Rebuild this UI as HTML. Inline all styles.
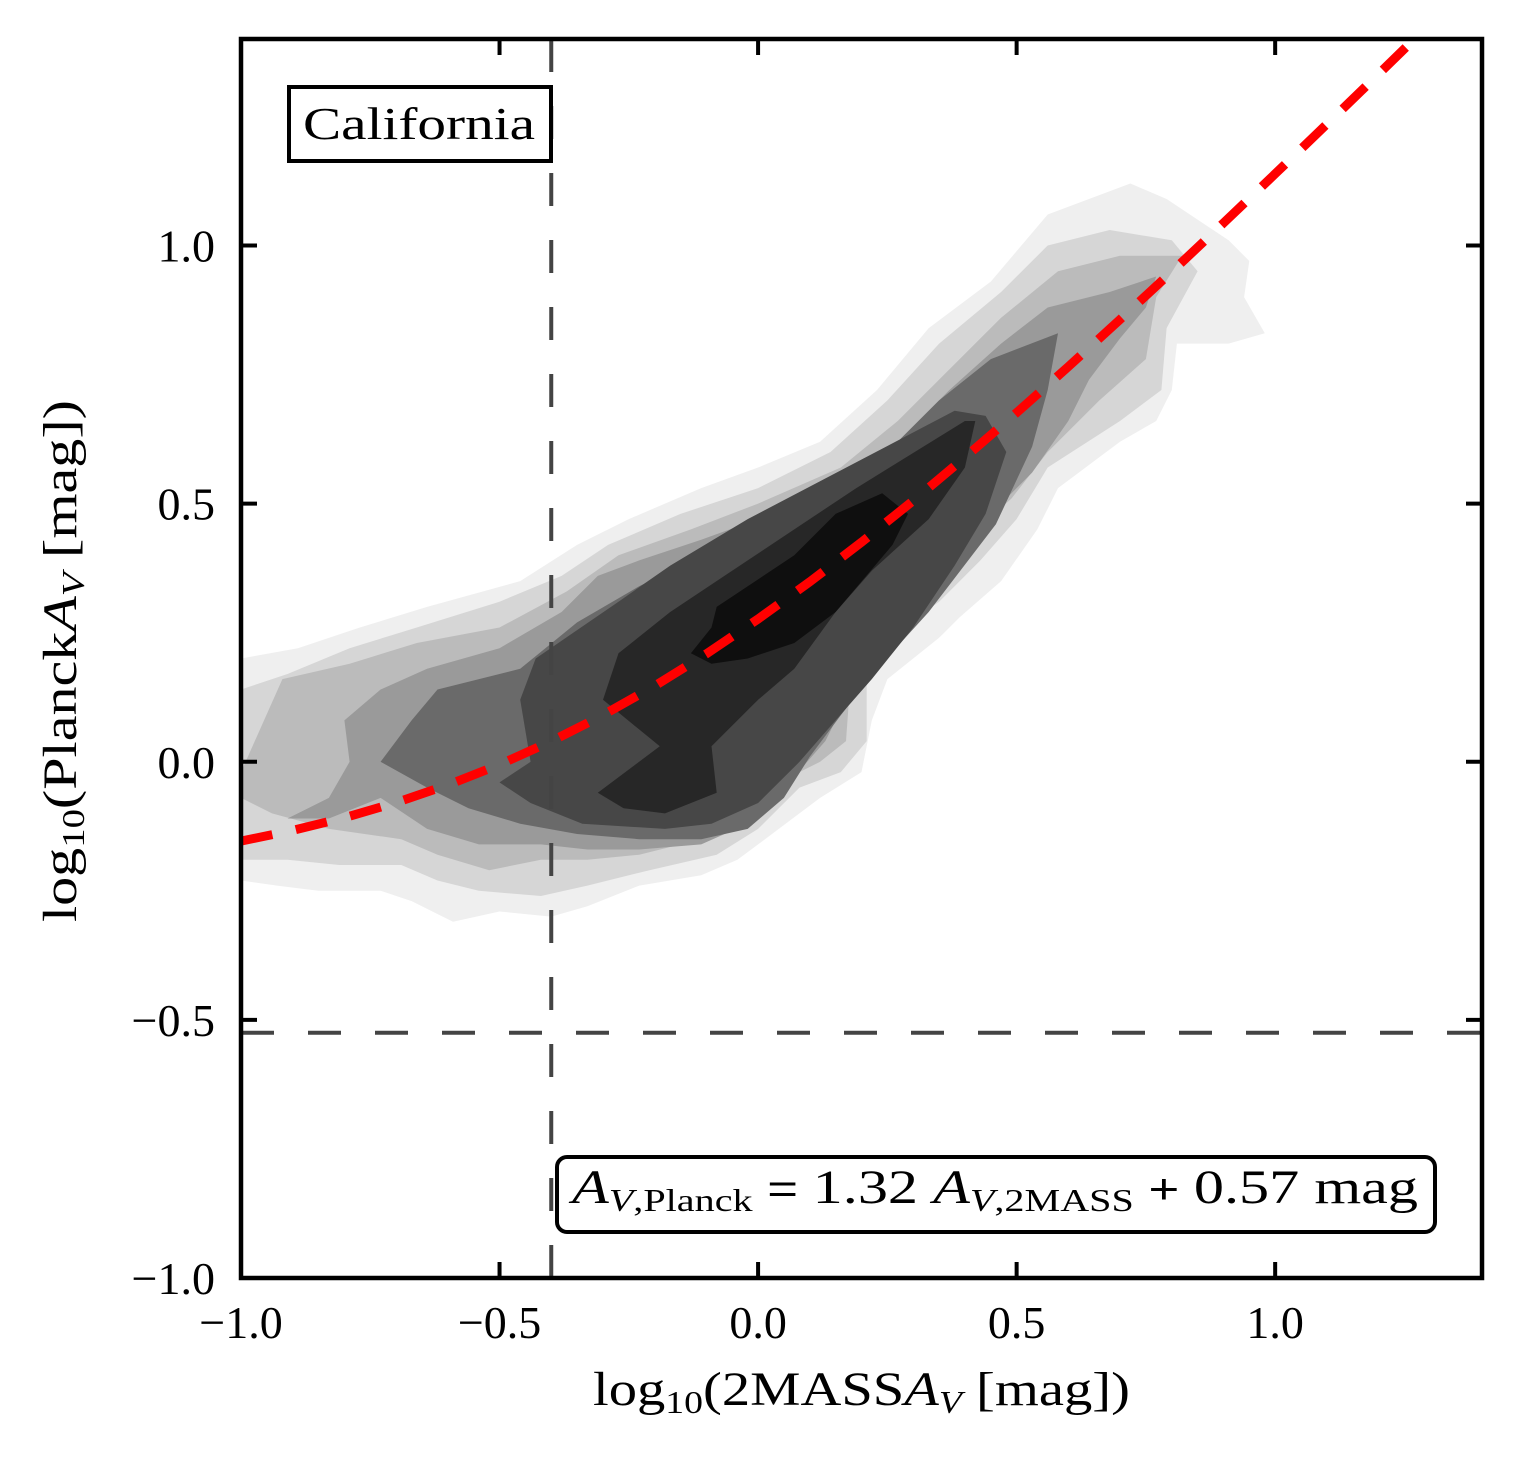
<!DOCTYPE html>
<html><head><meta charset="utf-8"><style>
html,body{margin:0;padding:0;background:#fff;}
svg{display:block;font-family:"Liberation Serif",serif;}
</style></head><body>
<svg id="chart" width="1521" height="1462" viewBox="0 0 1521 1462" xmlns="http://www.w3.org/2000/svg"></svg>
<script>
// ---- data ----
const xTicks = [-1.0, -0.5, 0.0, 0.5, 1.0];
const yTicks = [-1.0, -0.5, 0.0, 0.5, 1.0];
const xTickLabels = ["\u22121.0", "\u22120.5", "0.0", "0.5", "1.0"];
const yTickLabels = ["\u22121.0", "\u22120.5", "0.0", "0.5", "1.0"];
const fitSlope = 1.32;
const fitOffset = 0.57;
const fitX = [-1.0,-0.9,-0.8,-0.7,-0.6,-0.5,-0.4,-0.3,-0.2,-0.1,0,0.1,0.2,0.3,0.4,0.5,0.6,0.7,0.8,0.9,1.0,1.1,1.2,1.3,1.4];
const cutX = -0.4;
const cutY = -0.525;
const levelColors = ["#efefef","#d6d6d6","#bbbbbb","#9a9a9a","#6a6a6a","#474747","#272727","#0f0f0f"];
const level1 = [-1,0.20,-0.89,0.22,-0.77,0.26,-0.64,0.30,-0.46,0.35,-0.35,0.42,-0.25,0.47,-0.11,0.53,0,0.57,0.12,0.62,0.23,0.72,0.33,0.84,0.45,0.93,0.56,1.06,0.72,1.12,0.79,1.09,0.91,1.01,0.95,0.97,0.94,0.90,0.98,0.83,0.91,0.81,0.81,0.81,0.80,0.72,0.77,0.66,0.70,0.62,0.58,0.53,0.54,0.45,0.47,0.35,0.39,0.28,0.35,0.24,0.25,0.16,0.22,0.08,0.20,-0.02,0.12,-0.07,0.04,-0.13,-0.04,-0.19,-0.11,-0.22,-0.23,-0.24,-0.33,-0.28,-0.40,-0.30,-0.50,-0.29,-0.59,-0.31,-0.67,-0.27,-0.73,-0.25,-0.85,-0.25,-0.93,-0.24,-1,-0.23];
const level2 = [-1,0.14,-0.91,0.17,-0.79,0.22,-0.66,0.26,-0.50,0.31,-0.38,0.36,-0.29,0.42,-0.15,0.48,0,0.53,0.14,0.60,0.25,0.70,0.35,0.81,0.47,0.91,0.56,1.00,0.68,1.03,0.80,1.01,0.85,0.95,0.79,0.84,0.78,0.72,0.70,0.66,0.56,0.57,0.50,0.47,0.43,0.39,0.35,0.31,0.25,0.24,0.21,0.16,0.21,0.04,0.16,-0.02,0.08,-0.05,0,-0.13,-0.08,-0.18,-0.21,-0.21,-0.33,-0.24,-0.42,-0.26,-0.54,-0.25,-0.62,-0.23,-0.69,-0.20,-0.81,-0.20,-0.91,-0.19,-1,-0.19];
const level3 = [-1,-0.02,-0.92,0.16,-0.79,0.19,-0.66,0.23,-0.50,0.26,-0.37,0.33,-0.27,0.40,-0.13,0.45,0,0.50,0.16,0.57,0.27,0.66,0.37,0.76,0.47,0.86,0.58,0.95,0.70,0.98,0.82,0.98,0.77,0.90,0.75,0.78,0.66,0.70,0.56,0.60,0.49,0.51,0.39,0.42,0.31,0.33,0.23,0.27,0.18,0.18,0.17,0.04,0.12,0.00,0.06,-0.03,-0.02,-0.09,-0.11,-0.15,-0.23,-0.18,-0.33,-0.19,-0.42,-0.19,-0.52,-0.21,-0.62,-0.18,-0.69,-0.15,-0.83,-0.13,-0.94,-0.10,-1,-0.07];
const level4 = [-0.91,-0.11,-0.83,-0.07,-0.79,0.00,-0.80,0.08,-0.73,0.14,-0.64,0.18,-0.50,0.22,-0.38,0.29,-0.31,0.36,-0.23,0.39,-0.11,0.43,0,0.47,0.16,0.53,0.27,0.62,0.37,0.72,0.47,0.81,0.56,0.88,0.68,0.91,0.77,0.94,0.75,0.88,0.70,0.82,0.64,0.74,0.60,0.66,0.53,0.56,0.45,0.48,0.36,0.38,0.27,0.30,0.21,0.22,0.17,0.12,0.13,0.04,0.06,-0.04,-0.02,-0.12,-0.11,-0.16,-0.23,-0.17,-0.33,-0.17,-0.42,-0.16,-0.54,-0.16,-0.64,-0.13,-0.73,-0.07,-0.83,-0.11];
const level5 = [-0.73,0.00,-0.67,0.08,-0.62,0.14,-0.46,0.18,-0.35,0.27,-0.23,0.34,-0.11,0.40,0.00,0.45,0.14,0.51,0.25,0.60,0.35,0.70,0.45,0.78,0.58,0.83,0.56,0.72,0.53,0.61,0.46,0.46,0.33,0.29,0.23,0.18,0.16,0.09,0.10,0.01,0.05,-0.07,-0.02,-0.13,-0.11,-0.15,-0.23,-0.15,-0.35,-0.14,-0.46,-0.12,-0.56,-0.09,-0.64,-0.05];
const level6 = [-0.46,0.12,-0.43,0.20,-0.27,0.31,-0.17,0.38,-0.02,0.47,0.19,0.58,0.38,0.68,0.44,0.67,0.48,0.60,0.44,0.48,0.38,0.38,0.30,0.26,0.22,0.16,0.15,0.08,0.08,0.00,0.00,-0.08,-0.09,-0.12,-0.18,-0.13,-0.34,-0.12,-0.44,-0.08,-0.50,-0.04,-0.44,0.00];
const level7 = [0.42,0.66,0.40,0.57,0.33,0.47,0.22,0.37,0.15,0.29,0.07,0.18,0.00,0.12,-0.09,0.03,-0.08,-0.06,-0.18,-0.10,-0.26,-0.09,-0.31,-0.06,-0.19,0.03,-0.30,0.12,-0.27,0.21,-0.17,0.29,-0.02,0.39,0.19,0.53,0.40,0.66];
const level8 = [0.24,0.52,0.29,0.48,0.26,0.42,0.15,0.29,0.07,0.23,-0.02,0.20,-0.09,0.19,-0.13,0.21,-0.09,0.26,-0.08,0.30,0.07,0.40,0.15,0.48];
const levels = [level1,level2,level3,level4,level5,level6,level7,level8];

// ---- layout ----
const L=241, R=1482, T=39, B=1278;
const xMin=-1, xMax=1.4, yMin=-1, yMax=1.4;
const sx = v => L + (v - xMin) / (xMax - xMin) * (R - L);
const sy = v => B - (v - yMin) / (yMax - yMin) * (B - T);
const NS="http://www.w3.org/2000/svg";
const svg=document.getElementById('chart');
function mk(tag, attrs, parent){const e=document.createElementNS(NS,tag);for(const k in attrs)e.setAttribute(k,attrs[k]);(parent||svg).appendChild(e);return e;}

const defs=mk('defs',{});
const cp=mk('clipPath',{id:'plotclip'},defs);
mk('rect',{x:L,y:T,width:R-L,height:B-T},cp);
const plot=mk('g',{'clip-path':'url(#plotclip)'});



levels.forEach((arr,i)=>{
  const pts=[];
  for(let j=0;j<arr.length;j+=2) pts.push(sx(arr[j]).toFixed(1)+','+sy(arr[j+1]).toFixed(1));
  const p=mk('polygon',{points:pts.join(' '),fill:levelColors[i],stroke:'none'},plot);
  
  
});

const vl=mk('line',{x1:sx(cutX),x2:sx(cutX),y1:T,y2:B,stroke:'#444',"stroke-width":4,"stroke-dasharray":"33 34"},plot);


const hl=mk('line',{x1:L,x2:R,y1:sy(cutY),y2:sy(cutY),stroke:'#444',"stroke-width":4,"stroke-dasharray":"33 34"},plot);



const fitPts=fitX.map(x=>sx(x).toFixed(1)+','+sy(Math.log10(fitSlope*Math.pow(10,x)+fitOffset)).toFixed(1));
const fl=mk('polyline',{points:fitPts.join(' '),fill:'none',stroke:'#ff0000',"stroke-width":9,"stroke-dasharray":"32 24"},plot);



const fr=mk('rect',{x:L,y:T,width:R-L,height:B-T,fill:'none',stroke:'#000',"stroke-width":4.5});



xTicks.forEach((v,i)=>{
  const x=sx(v);
  const t1=mk('line',{x1:x,x2:x,y1:B,y2:B-16,stroke:'#000',"stroke-width":4});
  
  
  const t2=mk('line',{x1:x,x2:x,y1:T,y2:T+16,stroke:'#000',"stroke-width":4});
  
  
  const tx=mk('text',{x:x,y:B+60,"text-anchor":'middle',"font-size":46,fill:'#000'});
  tx.textContent=xTickLabels[i];
  
  
});
yTicks.forEach((v,i)=>{
  const y=sy(v);
  const t1=mk('line',{x1:L,x2:L+16,y1:y,y2:y,stroke:'#000',"stroke-width":4});
  
  
  const t2=mk('line',{x1:R,x2:R-16,y1:y,y2:y,stroke:'#000',"stroke-width":4});
  
  
  const tx=mk('text',{x:L-26,y:y+16,"text-anchor":'end',"font-size":46,fill:'#000'});
  tx.textContent=yTickLabels[i];
  
  
});
</script>
<svg style="position:absolute;left:0;top:0" width="1521" height="1462" xmlns="http://www.w3.org/2000/svg" font-family="Liberation Serif, serif">
  <g>
    <rect x="289" y="87" width="262" height="74" fill="#fff" stroke="#000" stroke-width="4"/>
    <text x="303" y="139" font-size="46" textLength="232" lengthAdjust="spacingAndGlyphs">California</text>
  </g>
  <g>
    <rect x="557" y="1157" width="878" height="75" rx="10" fill="#fff" stroke="#000" stroke-width="4"/>
    <text x="572" y="1203" font-size="48" textLength="846" lengthAdjust="spacingAndGlyphs"><tspan font-style="italic">A</tspan><tspan font-size="32" dy="8"><tspan font-style="italic">V</tspan>,Planck</tspan><tspan dy="-8" font-family="Liberation Sans, sans-serif" font-size="42"> = </tspan>1.32 <tspan font-style="italic">A</tspan><tspan font-size="32" dy="8"><tspan font-style="italic">V</tspan>,2MASS</tspan><tspan dy="-8" font-family="Liberation Sans, sans-serif" font-size="42"> + </tspan>0.57 mag</text>
  </g>
  <text x="593" y="1405" font-size="48" textLength="537" lengthAdjust="spacingAndGlyphs">log<tspan font-size="32" dy="8">10</tspan><tspan dy="-8">(2MASS</tspan><tspan font-style="italic">A</tspan><tspan font-size="32" dy="8" font-style="italic">V</tspan><tspan dy="-8"> [mag])</tspan></text>
  <text transform="translate(76,922) rotate(-90)" font-size="48" textLength="522" lengthAdjust="spacingAndGlyphs">log<tspan font-size="32" dy="8">10</tspan><tspan dy="-8">(Planck</tspan><tspan font-style="italic">A</tspan><tspan font-size="32" dy="8" font-style="italic">V</tspan><tspan dy="-8"> [mag])</tspan></text>
</svg>
</body></html>
